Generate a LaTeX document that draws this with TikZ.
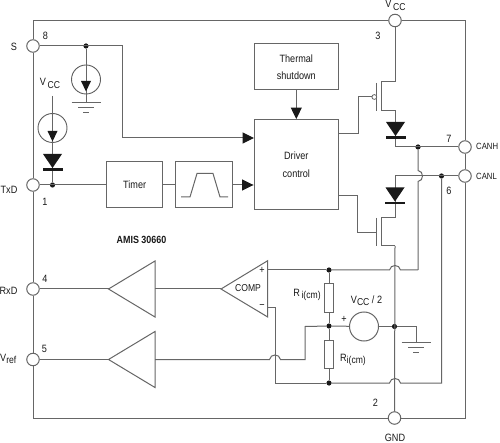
\documentclass[tikz,border=0pt]{standalone}
\usepackage{fontspec}
\setmainfont[FakeStretch=0.86]{Liberation Sans}
\usetikzlibrary{arrows.meta}
\definecolor{wire}{gray}{0.40}
\definecolor{ink}{gray}{0.10}
\tikzset{
  wirestyle/.style={draw=wire,line width=1pt},
  pin/.style={circle,draw=wire,line width=1pt,fill=white,minimum size=12.5pt,inner sep=0pt},
  dotnode/.style={circle,fill=ink,minimum size=5.2pt,inner sep=0pt},
  block/.style={rectangle,draw=wire,line width=1pt,fill=white,inner sep=0pt,align=center},
  src/.style={circle,draw=ink!70,line width=0.9pt,minimum size=29pt,inner sep=0pt},
  res/.style={rectangle,draw=wire,line width=1pt,fill=white,minimum width=9.6pt,minimum height=28pt,inner sep=0pt},
  lab/.style={inner sep=0pt,text=ink,font=\fontsize{10.6}{12}\selectfont},
  arr/.style={-{Triangle[length=11.5pt,width=11pt,color=ink,fill=ink]}},
}
\newcommand{\diodeat}[3]{% x, top y, half-width
  \fill[ink] (#1-#3,#2) -- (#1+#3,#2) -- (#1,#2+14) -- cycle;
  \fill[ink] (#1-#3-0.5,#2+14.2) rectangle (#1+#3+0.5,#2+16.8);
}
\newcommand{\groundat}[2]{% x, y
  \draw[wirestyle] (#1-14.5,#2) -- (#1+14.5,#2);
  \draw[wirestyle] (#1-8,#2+4.8) -- (#1+8,#2+4.8);
  \draw[wirestyle] (#1-3,#2+9.6) -- (#1+3,#2+9.6);
}
\newcommand{\subt}[2]{#1\raisebox{-2.4pt}{\fontsize{10}{11}\selectfont #2}}
\begin{document}
\begin{tikzpicture}[x=1pt,y=-1pt]
\useasboundingbox[fill=white] (0,0) rectangle (500,443);
% pins
\node[pin] (s) at (33,46) {};
\node[pin] (txd) at (33,185) {};
\node[pin] (rxd) at (33,289) {};
\node[pin] (vref) at (33,359.5) {};
\node[pin] (vcc) at (395,20.5) {};
\node[pin] (canh) at (465,147) {};
\node[pin] (canl) at (465,176) {};
\node[pin] (gnd) at (394.5,418) {};
% frame
\draw[wirestyle] (s)--(txd);
\draw[wirestyle] (txd)--(rxd);
\draw[wirestyle] (rxd)--(vref);
\draw[wirestyle] (vcc.west) -| (s.north);
\draw[wirestyle] (vcc.east) -| (canh.north);
\draw[wirestyle] (canh)--(canl);
\draw[wirestyle] (canl.south) |- (gnd.east);
\draw[wirestyle] (gnd.west) -| (vref.south);
% blocks
\node[block,minimum width=84.5pt,minimum height=46pt] (thermal) at (296.3,67) {};
\node[block,minimum width=84.5pt,minimum height=89.5pt] (driver) at (296.3,164.3) {};
\node[block,minimum width=56.5pt,minimum height=46pt] (timer) at (134.7,185) {};
\node[block,minimum width=56.5pt,minimum height=46pt] (filter) at (204,185) {};
\node[lab] at (296.3,58.5) {Thermal};
\node[lab] at (296.3,76) {shutdown};
\node[lab] at (296.3,156) {Driver};
\node[lab] at (296.3,174) {control};
\node[lab] at (134.7,185) {Timer};
\draw[wirestyle] (181,197)--(190,197)--(197,173.5)--(213,173.5)--(220,197)--(228,197);
% arrows between blocks
\draw[wirestyle,arr] (thermal.south)--(driver.north);
\draw[wirestyle] (timer.east)--(filter.west);
\coordinate (drvin) at (driver.west |- filter.east);
\draw[wirestyle,arr] (filter.east)--(drvin);
% S line
\node[dotnode] (sdot) at (86,46) {};
\coordinate (drvs) at (254,138);
\draw[wirestyle,arr] (s.east) -- (122,46) -- (122,138) -- (drvs);
% current sources
\node[src] (i1) at (86,79.5) {};
\coordinate (g1) at (86,103);
\draw[wirestyle] (sdot)--(g1);
\fill[ink] (81,81)--(91,81)--(86,91.5)--cycle;
\groundat{86}{103}
\node[src] (i2) at (52.5,128) {};
\coordinate (vcctop) at (52.5,96);
\node[dotnode] (txdot) at (52.5,185) {};
\draw[wirestyle] (vcctop)--(txdot);
\fill[ink] (47.5,131)--(57.5,131)--(52.5,141.5)--cycle;
\diodeat{52.5}{154}{9.5}
\draw[wirestyle] (txd.east)--(timer.west);
% PMOS
\coordinate (pd) at (381,82);
\coordinate (ps) at (381,111);
\draw[wirestyle] (vcc.south) |- (pd) -- (ps) -- (395.5,111) -- (395.5,147);
\draw[wirestyle] (376,83)--(376,111);
\draw[wirestyle] (338.5,133.5) -- (358,133.5) -- (358,97) -- (372,97);
\draw[draw=wire,line width=0.8pt,fill=white] (374.3,97) circle (2.4);
\diodeat{395.5}{122}{9.5}
\node[dotnode] (hdot) at (418,147) {};
\draw[wirestyle] (395.5,147)--(canh.west);
% NMOS and CANL wire
\node[dotnode] (ldot) at (441.5,176) {};
\draw[wirestyle] (canl.west) -- (395,176) -- (395,218) -- (381,218) -- (381,246) -- (395,246);
\draw[wirestyle] (376,218)--(376,246);
\draw[wirestyle] (338.5,196) -- (357.5,196) -- (357.5,232.5) -- (376,232.5);
\diodeat{395}{187.5}{9.5}
% vertical tap with hop over CANL
\draw[wirestyle] (hdot) -- (418,170.5) .. controls (424,171) and (424,181) .. (418,181.5) -- (418,270);
% comparator + buffers
\draw[wirestyle,fill=white] (221,289)--(267.7,260.7)--(267.7,317)--cycle;
\draw[wirestyle,fill=white] (108.5,289)--(155,261)--(155,317)--cycle;
\draw[wirestyle,fill=white] (108.5,359.5)--(155,331.5)--(155,387.5)--cycle;
\coordinate (comptip) at (221,289);
\coordinate (b1tip) at (108.5,289);
\coordinate (b1r) at (155,289);
\coordinate (b2tip) at (108.5,359.5);
\coordinate (b2r) at (155,359.5);
\draw[wirestyle] (rxd.east)--(b1tip);
\draw[wirestyle] (b1r)--(comptip);
\draw[wirestyle] (vref.east)--(b2tip);
% resistor network
\node[dotnode] (rtop) at (329,270) {};
\node[dotnode] (rmid) at (329,326) {};
\node[dotnode] (rbot) at (329,383) {};
\node[res] (r1) at (329,298) {};
\node[res] (r2) at (329,354.5) {};
\draw[wirestyle] (rtop)--(r1);
\draw[wirestyle] (r1)--(rmid);
\draw[wirestyle] (rmid)--(r2);
\draw[wirestyle] (r2)--(rbot);
\node[circle,draw=wire,line width=1pt,minimum size=29pt,inner sep=0pt] (vs) at (364,326.5) {};
\node[dotnode] (gdot) at (394.5,326.5) {};
\draw[wirestyle] (rmid)--(vs);
\draw[wirestyle] (vs)--(gdot);
\draw[wirestyle] (gdot) -- (416,326.5) -- (416,342.5);
\groundat{416}{342.5}
% comparator inputs
\draw[wirestyle] (267.7,270) -- (rtop);
\draw[wirestyle] (rtop) -- (389.5,270) .. controls (390.5,264) and (399.5,264) .. (400.5,270) -- (418,270);
\draw[wirestyle] (267.7,307.5) -- (275,307.5) -- (275,383) -- (rbot);
\draw[wirestyle] (rbot) -- (389.5,383) .. controls (390.5,377) and (399.5,377) .. (400.5,383) -- (441.5,383) -- (ldot);
\draw[wirestyle] (b2r) -- (269.5,359.5) .. controls (270.5,353.5) and (279.5,353.5) .. (280.5,359.5) -- (305,359.5) -- (305,326.5) -- (rmid);
% vertical to GND
\draw[wirestyle] (395,246) -- (gnd.north);
% labels
\node[lab] at (14,46.5) {S};
\node[lab] at (45.5,36) {8};
\node[lab] at (50,83.5) {\subt{V}{\,CC}};
\node[lab] at (9,189.5) {TxD};
\node[lab] at (45,201.5) {1};
\node[lab] at (45,278.5) {4};
\node[lab] at (8.5,291) {RxD};
\node[lab] at (44.5,349) {5};
\node[lab,anchor=west] at (0,359) {\subt{V}{ref}};
\node[lab,font=\fontsize{10.4}{12}\selectfont\bfseries] at (141.5,239.5) {AMIS 30660};
\node[lab] at (378,35.5) {3};
\node[lab] at (395.5,5.5) {\subt{V}{\,CC}};
\node[lab] at (449,139) {7};
\node[lab] at (449,191) {6};
\node[lab,anchor=west,font=\fontsize{9}{11}\selectfont] at (476,146) {CANH};
\node[lab,anchor=west,font=\fontsize{9}{11}\selectfont] at (476,176) {CANL};
\node[lab] at (375.5,402.5) {2};
\node[lab] at (395,438) {GND};
\node[lab,font=\fontsize{10}{12}\selectfont] at (248,288) {COMP};
\node[lab] at (262,270) {+};
\node[lab] at (262,307) {\textminus};
\node[lab] at (344,319) {+};
\node[lab] at (366.5,301) {\subt{V}{CC} / 2};
\node[lab] at (307,295) {\subt{R}{\,i(cm)}};
\node[lab] at (353,360) {\subt{R}{i(cm)}};
\end{tikzpicture}
\end{document}
